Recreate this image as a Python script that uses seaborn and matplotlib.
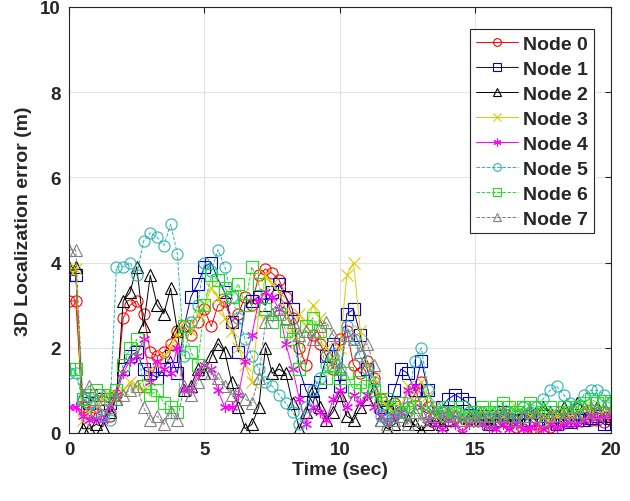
import numpy as np
import pandas as pd
import seaborn as sns
import matplotlib.pyplot as plt

# time axis, one sample every 0.25 s
time = np.arange(81) * 0.25

node0 = [3.1, 3.1, 0.6, 0.5, 0.45, 0.55, 0.4, 0.9, 2.7, 3.0,
         3.1, 2.8, 1.9, 1.8, 1.9, 2.1, 2.4, 2.5, 2.3, 2.6,
         2.9, 2.5, 3.0, 3.1, 2.6, 2.8, 3.2, 3.0, 3.7, 3.85,
         3.75, 3.6, 3.2, 2.7, 2.0, 1.6, 2.3, 2.1, 1.8, 1.5,
         2.2, 2.4, 1.6, 1.4, 1.7, 1.3, 0.8, 0.6, 0.7, 0.5,
         0.6, 0.9, 1.2, 0.6, 0.4, 0.5, 0.3, 0.4, 0.2, 0.3,
         0.4, 0.3, 0.35, 0.25, 0.3, 0.2, 0.15, 0.1, 0.05, 0.1,
         0.05, 0.15, 0.2, 0.3, 0.25, 0.3, 0.35, 0.3, 0.3, 0.25,
         0.3]
node1 = [3.7, 3.7, 0.8, 0.7, 0.9, 0.8, 0.7, 1.0, 1.5, 1.8,
         1.9, 1.5, 1.4, 1.3, 1.5, 1.8, 1.4, 2.5, 3.2, 3.5,
         3.9, 4.0, 3.6, 3.3, 2.6, 1.9, 3.0, 3.1, 3.2, 3.0,
         3.3, 3.5, 3.2, 2.9, 1.5, 1.0, 0.7, 1.2, 1.8, 2.1,
         1.1, 2.8, 2.9, 2.3, 1.5, 1.0, 0.6, 0.5, 1.0, 1.5,
         1.4, 1.0, 1.7, 1.0, 0.4, 0.6, 0.8, 0.9, 0.8, 0.7,
         0.5, 0.4, 0.3, 0.4, 0.5, 0.4, 0.3, 0.3, 0.4, 0.3,
         0.4, 0.3, 0.2, 0.3, 0.25, 0.3, 0.3, 0.35, 0.4, 0.2,
         0.2]
node2 = [3.9, 3.9, 0.1, 0.1, 0.2, 0.15, 0.5, 0.8, 3.1, 3.3,
         3.9, 2.5, 3.7, 3.0, 2.8, 3.4, 2.4, 1.0, 1.1, 1.5,
         1.4, 1.8, 2.1, 1.9, 1.2, 0.6, 0.1, 0.2, 0.6, 2.0,
         1.4, 1.5, 1.4, 0.7, 0.1, 0.5, 1.0, 0.6, 0.3, 0.5,
         0.9, 0.4, 0.3, 0.6, 0.8, 1.0, 0.3, 0.1, 0.2, 0.4,
         0.3, 0.2, 0.05, 0.2, 0.3, 0.2, 0.3, 0.4, 0.3, 0.35,
         0.4, 0.3, 0.2, 0.3, 0.4, 0.3, 0.4, 0.5, 0.4, 0.5,
         0.6, 0.5, 0.4, 0.6, 0.5, 0.7, 0.6, 0.5, 0.6, 0.5,
         0.4]
node3 = [3.85, 3.85, 0.3, 0.5, 0.7, 0.8, 0.9, 0.9, 1.0, 1.2,
         1.1, 1.0, 1.5, 1.6, 1.8, 2.0, 2.3, 2.6, 2.4, 2.8,
         3.0, 3.4, 3.2, 2.7, 2.4, 2.0, 1.6, 1.2, 2.8, 3.7,
         3.5, 3.3, 2.9, 2.3, 2.8, 2.5, 3.0, 2.7, 2.0, 1.7,
         2.0, 3.7, 4.0, 2.4, 1.6, 1.3, 0.8, 0.6, 0.5, 0.6,
         1.1, 0.7, 1.2, 0.9, 0.6, 0.5, 0.4, 0.5, 0.4, 0.3,
         0.4, 0.5, 0.4, 0.5, 0.4, 0.5, 0.6, 0.5, 0.4, 0.5,
         0.4, 0.3, 0.4, 0.5, 0.4, 0.5, 0.6, 0.5, 0.4, 0.5,
         0.5]
node4 = [0.6, 0.6, 0.4, 0.3, 0.35, 0.3, 0.6, 0.9, 1.4, 1.7,
         1.8, 2.2, 1.2, 1.7, 1.5, 1.4, 2.0, 1.0, 1.0, 1.4,
         1.6, 1.5, 1.0, 0.6, 0.6, 0.9, 1.7, 2.3, 3.1, 3.3,
         3.2, 2.9, 2.1, 1.5, 0.8, 0.2, 0.6, 0.5, 0.3, 0.8,
         1.0, 0.6, 0.9, 0.7, 0.9, 0.6, 0.4, 0.3, 0.4, 0.5,
         1.0, 1.1, 0.6, 0.3, 0.2, 0.1, 0.3, 0.2, 0.0, 0.2,
         0.3, 0.2, 0.15, 0.1, 0.2, 0.1, 0.2, 0.1, 0.15, 0.2,
         0.1, 0.2, 0.15, 0.2, 0.25, 0.2, 0.3, 0.4, 0.35, 0.4,
         0.4]
node5 = [1.4, 1.4, 0.8, 0.7, 0.5, 0.4, 0.3, 3.9, 3.9, 4.0,
         3.7, 4.5, 4.7, 4.6, 4.4, 4.9, 4.2, 1.8, 2.6, 3.0,
         4.0, 3.8, 4.3, 3.9, 3.2, 2.7, 2.2, 1.8, 1.5, 1.2,
         1.1, 0.9, 0.7, 0.5, 0.2, 0.6, 1.0, 1.3, 1.6, 1.8,
         1.5, 2.5, 2.2, 1.8, 1.5, 1.2, 0.4, 0.3, 0.4, 0.5,
         0.6, 1.7, 2.0, 1.0, 0.6, 0.5, 0.4, 0.5, 0.4, 0.5,
         0.4, 0.5, 0.4, 0.5, 0.4, 0.5, 0.4, 0.6, 0.5, 0.6,
         0.8, 1.0, 1.1, 0.9, 0.7, 0.6, 0.9, 1.0, 1.0, 0.9,
         0.7]
node6 = [1.5, 1.5, 0.8, 0.9, 1.0, 0.9, 0.8, 1.0, 1.6, 2.0,
         2.2, 1.1, 0.9, 1.0, 0.7, 0.6, 0.5, 2.5, 1.9, 1.6,
         3.0, 3.7, 3.6, 3.4, 3.2, 3.5, 3.0, 3.9, 3.5, 2.9,
         2.6, 2.8, 2.4, 2.2, 1.5, 2.5, 2.7, 2.4, 1.3, 1.6,
         1.3, 1.4, 1.0, 1.2, 1.1, 1.0, 0.7, 0.8, 0.6, 0.7,
         0.5, 0.6, 0.7, 0.5, 0.4, 0.5, 0.6, 0.5, 0.6, 0.4,
         0.5, 0.6, 0.5, 0.6, 0.7, 0.6, 0.5, 0.6, 0.7, 0.6,
         0.5, 0.6, 0.5, 0.6, 0.5, 0.6, 0.7, 0.8, 0.7, 0.75,
         0.7]
node7 = [4.3, 4.3, 0.9, 1.1, 0.8, 0.9, 0.6, 0.8, 0.9, 1.0,
         1.1, 0.6, 0.3, 0.4, 0.2, 0.5, 0.3, 1.1, 0.9, 1.2,
         1.6, 1.4, 1.3, 1.1, 0.9, 1.0, 0.8, 0.7, 1.3, 2.6,
         2.8, 2.9, 2.7, 2.6, 2.3, 2.4, 2.2, 2.5, 2.6, 2.3,
         1.5, 2.3, 2.2, 1.9, 2.1, 1.6, 0.3, 0.2, 0.3, 0.4,
         0.2, 0.5, 0.3, 0.4, 0.5, 0.4, 0.5, 0.4, 0.3, 0.4,
         0.3, 0.4, 0.3, 0.4, 0.5, 0.4, 0.3, 0.4, 0.5, 0.4,
         0.3, 0.4, 0.5, 0.4, 0.5, 0.4, 0.5, 0.6, 0.5, 0.6,
         0.5]

labels = ["Node 0", "Node 1", "Node 2", "Node 3", "Node 4", "Node 5", "Node 6", "Node 7"]
series = [node0, node1, node2, node3, node4, node5, node6, node7]

# matlab-ish look: colour, marker, line style per node
colors = ["#ff0000", "#0000c8", "#000000", "#d8cc00", "#ff00ff", "#2cb4b4", "#22dd22", "#808080"]
markers = ["o", "s", "^", "x", (6, 2, 0), "o", "s", "^"]
lstyles = ["-", "-", "-", "-", "-", "--", "--", "--"]

sns.set_style("white")
plt.rcParams['font.family'] = ['Liberation Sans', 'DejaVu Sans']
plt.rcParams['font.weight'] = 'bold'

fig = plt.figure(figsize=(6.3, 5.02), dpi=100)
ax = fig.add_axes([0.1095, 0.1355, 0.8603, 0.8486])

for lab, vals, c, m, ls in zip(labels, series, colors, markers, lstyles):
    sns.lineplot(x=time, y=vals, ax=ax, color=c, marker=m, linestyle=ls,
                 linewidth=0.7, markersize=8, markerfacecolor="none",
                 markeredgecolor=c, markeredgewidth=0.8, label=lab,
                 estimator=None, sort=False)

ax.set_xlim(0, 20)
ax.set_ylim(0, 10)
ax.set_xticks([0, 5, 10, 15, 20])
ax.set_yticks([0, 2, 4, 6, 8, 10])
ax.grid(True, color="#e2e2e2", linewidth=0.8)
ax.set_axisbelow(True)
for s in ax.spines.values():
    s.set_color("#262626")
    s.set_linewidth(0.8)
ax.tick_params(direction="in", length=4, width=0.8, top=True, right=True,
               labelsize=13.5, colors="#262626", pad=6)
for t in ax.get_xticklabels() + ax.get_yticklabels():
    t.set_fontweight("bold")
ax.set_xlabel("Time (sec)", fontsize=14, fontweight="bold", color="#262626", labelpad=2)
ax.set_ylabel("3D Localization error (m)", fontsize=14, fontweight="bold", color="#262626", labelpad=6)

leg = ax.legend(loc="upper right", bbox_to_anchor=(0.9686, 0.948), borderaxespad=0,
                fancybox=False, framealpha=1, edgecolor="#262626",
                prop={"size": 14, "weight": "bold"}, handlelength=2.2,
                handletextpad=0.25, labelspacing=0.38, borderpad=0.3,
                markerscale=0.7)
leg.get_frame().set_linewidth(0.8)

fig.savefig("out.png", dpi=100)
